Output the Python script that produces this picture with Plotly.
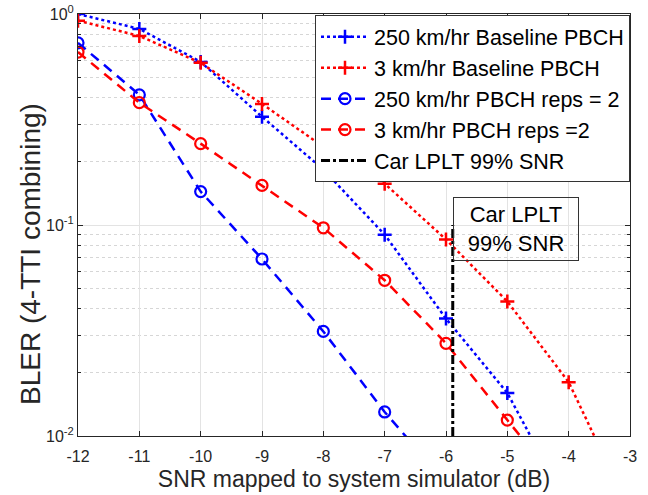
import plotly.graph_objects as go

snr = [-12, -11, -10, -9, -8, -7, -6, -5, -4, -3]

# BLER values
base_250 = [1.0, 0.85, 0.593, 0.326, 0.183, 0.090, 0.036, 0.016, 0.0046]
base_3 = [0.93, 0.787, 0.587, 0.375, 0.235, 0.157, 0.0854, 0.0434, 0.018, 0.0044]
reps_250 = [0.73, 0.414, 0.144, 0.069, 0.0313, 0.013, 0.006]
reps_3 = [0.66, 0.38, 0.243, 0.154, 0.097, 0.0547, 0.0275, 0.0119, 0.0052]

car_x = [-5.89, -5.89]
car_y = [0.01, 0.1]

names = ["250 km/hr Baseline PBCH", "3 km/hr Baseline PBCH",
         "250 km/hr PBCH reps = 2", "3 km/hr PBCH reps =2",
         "Car LPLT 99% SNR"]

BLUE = "rgb(0,0,255)"
RED = "rgb(255,0,0)"
FONT = "Liberation Sans, Arial, sans-serif"
GRAY = "#262626"

W, H = 648, 495
ML, MR, MT, MB = 78, 18, 14, 59
plot_h = H - MT - MB

fig = go.Figure()
fig.add_trace(go.Scatter(x=snr[:len(base_250)], y=base_250, name=names[0], mode="lines+markers",
                         line=dict(color=BLUE, width=2.5, dash="dot"),
                         marker=dict(symbol="cross-thin", size=10, line=dict(color=BLUE, width=2.5))))
fig.add_trace(go.Scatter(x=snr[:len(base_3)], y=base_3, name=names[1], mode="lines+markers",
                         line=dict(color=RED, width=2.5, dash="dot"),
                         marker=dict(symbol="cross-thin", size=10, line=dict(color=RED, width=2.5))))
fig.add_trace(go.Scatter(x=snr[:len(reps_250)], y=reps_250, name=names[2], mode="lines+markers",
                         line=dict(color=BLUE, width=2.5, dash="10px,7px"),
                         marker=dict(symbol="circle-open", size=11, color=BLUE, line=dict(color=BLUE, width=2.2))))
fig.add_trace(go.Scatter(x=snr[:len(reps_3)], y=reps_3, name=names[3], mode="lines+markers",
                         line=dict(color=RED, width=2.5, dash="10px,7px"),
                         marker=dict(symbol="circle-open", size=11, color=RED, line=dict(color=RED, width=2.2))))
fig.add_trace(go.Scatter(x=car_x, y=car_y, name=names[4], mode="lines",
                         line=dict(color="black", width=3, dash="dashdot")))

fig.add_annotation(x=car_x[0], xref="x", xanchor="left",
                   y=1 - (197 - MT) / plot_h, yref="paper", yanchor="top",
                   text="Car LPLT<br>99% SNR", showarrow=False,
                   font=dict(family=FONT, size=22, color="black"),
                   width=120, height=58, borderpad=2, bordercolor="#333333", borderwidth=1,
                   align="center")

# y-axis label as rotated annotation
fig.add_annotation(x=(30 - ML) / (W - ML - MR), xref="paper", xanchor="center",
                   y=1 - (254 - MT) / plot_h, yref="paper", yanchor="middle",
                   text="BLER (4-TTI combining)", textangle=-90, showarrow=False,
                   font=dict(family=FONT, size=28, color=GRAY))

fig.update_layout(
    width=W, height=H,
    margin=dict(l=ML, r=MR, t=MT, b=MB),
    paper_bgcolor="white", plot_bgcolor="white",
    font=dict(family=FONT, color=GRAY),
    showlegend=True,
    legend=dict(x=1, xanchor="right", y=0.997, yanchor="top",
                bgcolor="white", bordercolor="#333333", borderwidth=1,
                font=dict(family=FONT, size=21.5, color="black"),
                itemwidth=48, tracegroupgap=0),
    xaxis=dict(range=[-12, -3], tickvals=snr, ticktext=[str(v) for v in snr],
               automargin=False, ticklabelstandoff=6, ticklabeloverflow="allow",
               ticks="inside", ticklen=5, tickcolor=GRAY, mirror="ticks",
               showline=True, linecolor=GRAY, linewidth=1,
               showgrid=True, gridcolor="#e3e3e3", gridwidth=1, zeroline=False,
               tickfont=dict(size=16, color=GRAY),
               title=dict(text="SNR mapped to system simulator (dB)", font=dict(size=23, color=GRAY), standoff=6)),
    yaxis=dict(type="log", range=[-2, 0], tickvals=[0.01, 0.1, 1],
               ticktext=["10<sup>-2</sup>", "10<sup>-1</sup>", "10<sup>0</sup>"],
               automargin=False, ticklabeloverflow="allow",
               ticks="inside", ticklen=5, tickcolor=GRAY, mirror="ticks",
               showline=True, linecolor=GRAY, linewidth=1,
               showgrid=True, gridcolor="#e3e3e3", gridwidth=1, zeroline=False,
               minor=dict(ticks="inside", ticklen=3, tickcolor=GRAY, showgrid=True,
                          gridcolor="#d6d6d6", griddash="dot", gridwidth=1,
                          tickvals=[v * d for d in (0.01, 0.1) for v in range(2, 10)]),
               tickfont=dict(size=16, color=GRAY)),
)

fig.write_html("out.html", config={"displayModeBar": False},
               post_script="document.body.style.margin='0';")
